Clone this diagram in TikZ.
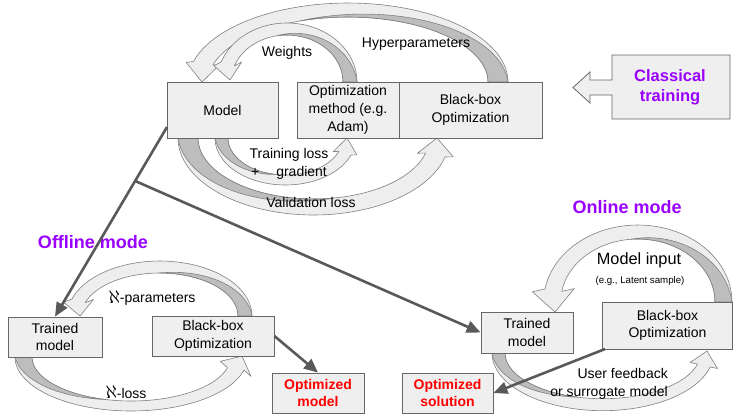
\documentclass[tikz,border=0pt]{standalone}
\usepackage{fontspec}
\setmainfont{Liberation Sans}
\usetikzlibrary{arrows.meta}
\definecolor{boxfill}{HTML}{EFEFEF}
\definecolor{boxline}{HTML}{666666}
\definecolor{conn}{HTML}{595959}
\definecolor{bandlight}{HTML}{EEEEEE}
\definecolor{banddark}{HTML}{BDBDBD}
\definecolor{bandline}{HTML}{808080}
\definecolor{modepurple}{HTML}{9900FF}
\definecolor{optred}{HTML}{FF0000}

\pgfkeys{/carr/.is family, /carr,
  s/.store in=\cS, cx/.store in=\cX, cy/.store in=\cY,
  ao/.store in=\cAo, bo/.store in=\cBo, ai/.store in=\cAi, bi/.store in=\cBi,
  te/.store in=\cTe, tx/.store in=\cTx, ty/.store in=\cTy, hw/.store in=\cH,
  tm/.store in=\cTm}

\newcommand\CArrow[1]{%
  \pgfkeys{/carr,#1}%
  \pgfmathsetmacro\pox{\cX+\cS*\cAo*cos(\cTe)}%
  \pgfmathsetmacro\poy{\cY-\cS*\cBo*sin(\cTe)}%
  \pgfmathsetmacro\pix{\cX+\cS*\cAi*cos(\cTe)}%
  \pgfmathsetmacro\piy{\cY-\cS*\cBi*sin(\cTe)}%
  \pgfmathsetmacro\mx{(\pox+\pix)/2}%
  \pgfmathsetmacro\my{(\poy+\piy)/2}%
  \pgfmathsetmacro\dl{veclen(\cTx-\mx,\cTy-\my)}%
  \pgfmathsetmacro\nx{(\my-\cTy)/\dl}%
  \pgfmathsetmacro\ny{(\cTx-\mx)/\dl}%
  \pgfmathsetmacro\sg{sign((\pox-\mx)*\nx+(\poy-\my)*\ny)}%
  \pgfmathsetmacro\hox{\mx+\sg*\cH*\nx}%
  \pgfmathsetmacro\hoy{\my+\sg*\cH*\ny}%
  \pgfmathsetmacro\hix{\mx-\sg*\cH*\nx}%
  \pgfmathsetmacro\hiy{\my-\sg*\cH*\ny}%
  \filldraw[band]
    plot[domain=0:\cTe, samples=50, variable=\t] ({\cX+\cS*\cAo*cos(\t)},{\cY-\cS*\cBo*sin(\t)})
    -- (\hox,\hoy) -- (\cTx,\cTy) -- (\hix,\hiy) -- (\pix,\piy)
    -- plot[domain=0:\cTe, samples=50, variable=\t] ({\cX+\cS*\cAi*cos(\cTe-\t)},{\cY-\cS*\cBi*sin(\cTe-\t)})
    -- cycle;
  \filldraw[banddk]
    plot[domain=0:\cTm, samples=40, variable=\t] ({\cX+\cS*\cAi*cos(\t)},{\cY-\cS*\cBi*sin(\t)})
    -- plot[domain=0:\cTm, samples=40, variable=\t]
       ({\cX+\cS*(\cAi+(\cAo-\cAi)*(\t/\cTm))*cos(\cTm-\t)},{\cY-\cS*(\cBi+(\cBo-\cBi)*(\t/\cTm))*sin(\cTm-\t)})
    -- cycle;
}

\newcommand\alephsym{\raisebox{-0.5pt}{\scalebox{1.3}{$\aleph$}}}

\begin{document}
\begin{tikzpicture}[x=1pt,y=-1pt,
  band/.style={draw=bandline, fill=bandlight, line width=0.6pt, line join=round},
  banddk/.style={draw=bandline, fill=banddark, line width=0.6pt, line join=round},
  box/.style={draw=boxline, fill=boxfill, line width=0.8pt, inner sep=0pt, align=center,
    font=\fontsize{14}{17.7}\selectfont},
  redbox/.style={box, text=optred, font=\fontsize{14}{17.7}\selectfont\bfseries},
  lbl/.style={font=\fontsize{14}{17.7}\selectfont, inner sep=0pt, align=center},
  mode/.style={font=\fontsize{18}{22}\selectfont\bfseries, text=modepurple, inner sep=0pt},
  conn/.style={draw=conn, line width=2.6pt, -{Triangle[length=14pt,width=12pt]}}]
\useasboundingbox (0,0) rectangle (733,416);

% curved arrows (classical training)
\CArrow{s=1,cx=348,cy=82,ao=160,bo=79,ai=140,bi=65,te=165,tx=202,ty=82,hw=17,tm=110}
\CArrow{s=1,cx=287,cy=82,ao=70,bo=59,ai=56,bi=47,te=160,tx=230,ty=80,hw=14,tm=100}
\CArrow{s=-1,cx=313.6,cy=138,ao=135.6,bo=77,ai=115.6,bi=61,te=165.7,tx=437,ty=138,hw=18,tm=100}
\CArrow{s=-1,cx=285.4,cy=138,ao=70.4,bo=47,ai=57.4,bi=37,te=158.8,tx=347,ty=138,hw=12,tm=80}
% offline
\CArrow{s=1,cx=159.7,cy=316,ao=92.3,bo=55,ai=78.3,bi=43,te=162,tx=80,ty=316,hw=15,tm=90}
\CArrow{s=-1,cx=131.2,cy=357,ao=116.2,bo=54,ai=99.2,bi=44,te=166,tx=242,ty=356,hw=17,tm=75}
% online
\CArrow{s=1,cx=637.8,cy=302,ao=94.2,bo=77,ai=77.2,bi=63,te=170.3,tx=555,ty=312,hw=21,tm=95}
\CArrow{s=-1,cx=602.7,cy=353,ao=110.7,bo=57.7,ai=97.7,bi=45.7,te=166,tx=707,ty=351,hw=14,tm=75}

% boxes
\node[box, minimum width=111pt, minimum height=56pt] (model) at (222.5,110) {Model};
\node[box, minimum width=102pt, minimum height=56pt] (optm) at (348,110) {Optimization\\method (e.g.\\Adam)};
\node[box, minimum width=143pt, minimum height=56pt] (bbtop) at (470.5,110) {Black-box\\Optimization};

\node[box, minimum width=94pt, minimum height=40pt] (tmoff) at (55,337) {Trained\\model};
\node[box, minimum width=122pt, minimum height=40pt] (bboff) at (213,336) {Black-box\\Optimization};
\node[redbox, minimum width=92pt, minimum height=40pt] (optmodel) at (318,393) {Optimized\\model};

\node[box, minimum width=92pt, minimum height=41pt] (tmon) at (527,332.5) {Trained\\model};
\node[box, minimum width=130pt, minimum height=47pt] (bbon) at (667.5,325.5) {Black-box\\Optimization};
\node[redbox, minimum width=91pt, minimum height=40pt] (optsol) at (447.5,393) {Optimized\\solution};

% classical training block arrow
\filldraw[draw=boxline, fill=boxfill, line width=0.8pt]
  (612,55) -- (730,55) -- (730,119) -- (612,119) -- (612,95) -- (590,95) -- (590,103)
  -- (573,87.5) -- (590,72) -- (590,80) -- (612,80) -- cycle;
\node[font=\fontsize{16.5}{20.5}\selectfont\bfseries, text=modepurple, align=center, inner sep=0pt]
  (classical) at (670,87.5) {Classical\\training};

% labels
\node[lbl] (wlbl) at (287,53) {Weights};
\node[lbl] (hlbl) at (416,44) {Hyperparameters};
\node[lbl] (tlbl) at (289,164) {Training loss\\+\hspace{17pt}gradient};
\node[lbl] (vlbl) at (311,202) {Validation loss};
\node[lbl] (plbl) at (152,298) {\alephsym-parameters};
\node[lbl] (llbl) at (126,392) {\alephsym-loss};
\node[font=\fontsize{16.3}{20}\selectfont, inner sep=0pt] (milbl) at (639,260) {Model input};
\node[font=\fontsize{9.7}{12}\selectfont, inner sep=0pt] (eglbl) at (640,281) {(e.g., Latent sample)};
\node[lbl, align=right, anchor=east] (ulbl) at (668,384) {User feedback\\or surrogate model};

\node[mode] (offmode) at (93,242) {Offline mode};
\node[mode] (onmode) at (627,207) {Online mode};

% connectors
\coordinate (mstart) at (167,127);
\coordinate (branch) at (135.2,181);
\coordinate (bbonsw) at (605,349);
\draw[conn] (mstart) -- (tmoff.north);
\draw[conn] (branch) -- (tmon.west);
\draw[conn] (bboff.east) -- (optmodel.north);
\draw[conn] (bbonsw) -- (optsol.east);
\end{tikzpicture}
\end{document}
